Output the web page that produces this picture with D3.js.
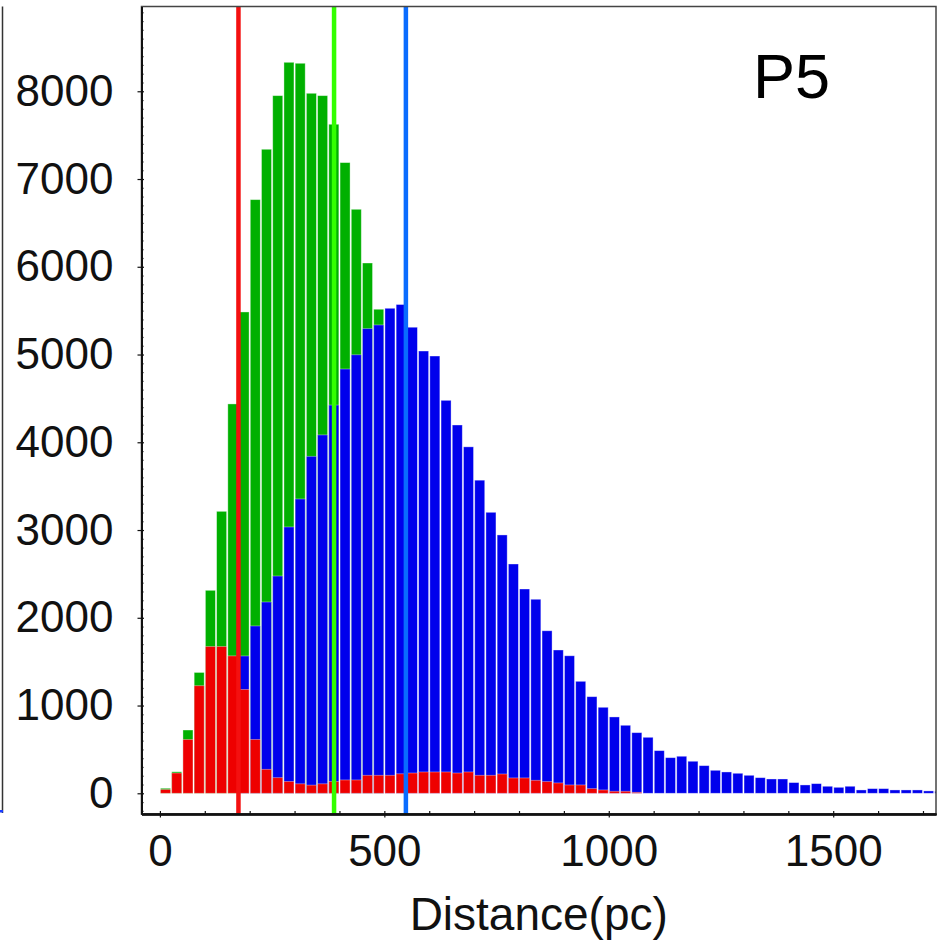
<!DOCTYPE html>
<html>
<head>
<meta charset="utf-8">
<script src="https://cdn.jsdelivr.net/npm/d3@7/dist/d3.min.js"></script>
<style>
  body { margin: 0; background: #fff; }
  svg { display: block; }
</style>
</head>
<body>
<svg id="chart" width="941" height="944"></svg>
<script>
// histogram bins, 25 pc wide, starting at 0
const binWidth = 25;
const firstBin = 0;

// counts per bin (index 0 = 0-25 pc); null = hidden behind other series
const greenCounts = [57, 245, 721, 1377, 2313, 3213, 4437, 5485, 6765, 7339,
    7950, 8330, 8319, 7977, 7950, 7624, 7187, 6655, 6043, 5516];

const blueCounts = [null, null, null, null, null, null, null,
    1565, 1907, 2180, 2476, 3035, 3354, 3840, 4084, 4424, 4835, 4997, 5295, 5337,
    5527, 5570, 5311, 5040, 4983, 4478, 4197, 3948, 3568, 3202,
    2944, 2613, 2328, 2211, 1852, 1633, 1567, 1276, 1101, 980,
    870, 775, 691, 638, 486, 406, 422, 365, 315, 262,
    243, 228, 205, 178, 163, 163, 122, 95, 110, 80,
    68, 80, 38, 53, 53, 38, 38, 38, 27, 23];

const redCounts = [43, 231, 613, 1226, 1673, 1673, 1566, 1183, 613, 273,
    178, 135, 108, 93, 108, 135, 152, 152, 205, 205,
    205, 222, 231, 243, 243, 243, 231, 243, 205, 205,
    220, 175, 175, 148, 133, 118, 95, 95, 53, 38,
    23, 23, 11];

// vertical marker lines (pc)
const markerValues = [175, 388, 548];

const xTickValues = [0, 500, 1000, 1500];
const yTickValues = [0, 1000, 2000, 3000, 4000, 5000, 6000, 7000, 8000];
const panelLabel = "P5";
const xTitle = "Distance(pc)";

// ---- layout / style ----
const box = {left: 141.5, right: 936, top: 6.5, bottom: 814};
const seriesColors = {green: "#00b000", blue: "#0000ec", red: "#ee0000"};
const markerColors = ["#f41010", "#33ff00", "#0a6cff"];
const font = "'Liberation Sans', Arial, sans-serif";

const svg = d3.select("#chart");

const x = d3.scaleLinear().domain([-41, 1729]).range([box.left, box.right]);
const y = d3.scaleLinear().domain([-236, 8966]).range([box.bottom, box.top]);

// piece of the neighbouring panel on the far left
svg.append("line")
    .attr("x1", 2.5).attr("x2", 2.5).attr("y1", box.top).attr("y2", 813)
    .attr("stroke", "#333").attr("stroke-width", 1.5);
svg.append("rect")
    .attr("x", 0).attr("y", 810).attr("width", 3).attr("height", 2.5)
    .attr("fill", "#1a3cff");

svg.append("defs").append("clipPath").attr("id", "plotclip")
    .append("rect")
    .attr("x", box.left).attr("y", box.top)
    .attr("width", box.right - box.left).attr("height", box.bottom - box.top);

const plot = svg.append("g").attr("clip-path", "url(#plotclip)");

function toBins(counts) {
    return counts.map((c, i) => ({x0: firstBin + i * binWidth, x1: firstBin + (i + 1) * binWidth, n: c}))
        .filter(d => d.n != null);
}

function drawSeries(counts, color) {
    plot.append("g")
        .selectAll("rect")
        .data(toBins(counts)).enter().append("rect")
        .attr("x", d => x(d.x0) + 0.6)
        .attr("width", d => x(d.x1) - x(d.x0) - 1.2)
        .attr("y", d => y(d.n))
        .attr("height", d => y(0) - y(d.n))
        .attr("fill", color)
        .attr("stroke", "rgba(255,255,255,0.45)")
        .attr("stroke-width", 0.8);
}

drawSeries(greenCounts, seriesColors.green);
drawSeries(blueCounts, seriesColors.blue);
drawSeries(redCounts, seriesColors.red);

plot.append("g")
    .selectAll("line")
    .data(markerValues).enter().append("line")
    .attr("x1", d => x(d)).attr("x2", d => x(d))
    .attr("y1", box.top).attr("y2", box.bottom)
    .attr("stroke", (d, i) => markerColors[i])
    .attr("stroke-width", 4.5);

// frame
svg.append("rect")
    .attr("x", box.left).attr("y", box.top)
    .attr("width", box.right - box.left).attr("height", box.bottom - box.top)
    .attr("fill", "none").attr("stroke", "#444").attr("stroke-width", 1.5);

// y axis: major ticks crossing the spine, minor inside
const yMinor = d3.range(-200, 8901, 100).filter(v => v % 1000 !== 0);
const fmt = d3.format("d");

svg.append("g")
    .attr("transform", `translate(${box.left},0)`)
    .call(d3.axisLeft(y).tickValues(yTickValues).tickFormat(fmt).tickSize(4).tickPadding(24).tickSizeOuter(0));
svg.append("g")
    .attr("transform", `translate(${box.left},0)`)
    .call(d3.axisRight(y).tickValues(yTickValues).tickSize(2.5).tickFormat("").tickSizeOuter(0));
svg.append("g")
    .attr("transform", `translate(${box.left},0)`)
    .call(d3.axisRight(y).tickValues(yMinor).tickSize(2).tickFormat("").tickSizeOuter(0));

// x axis
const xMinor = d3.range(100, 1701, 100).filter(v => v % 500 !== 0);

svg.append("g")
    .attr("transform", `translate(0,${box.bottom})`)
    .call(d3.axisBottom(x).tickValues(xTickValues).tickFormat(fmt).tickSize(3.5).tickPadding(17).tickSizeOuter(0));
svg.append("g")
    .attr("transform", `translate(0,${box.bottom})`)
    .call(d3.axisTop(x).tickValues(xTickValues).tickSize(3).tickFormat("").tickSizeOuter(0));
svg.append("g")
    .attr("transform", `translate(0,${box.bottom})`)
    .call(d3.axisTop(x).tickValues(xMinor).tickSize(3).tickFormat("").tickSizeOuter(0));

svg.selectAll(".domain").attr("stroke", "#111").attr("stroke-width", 1.8);
svg.selectAll(".tick line").attr("stroke", "#111").attr("stroke-width", 1.2);
svg.selectAll(".tick text")
    .attr("font-family", font)
    .attr("font-size", 44)
    .attr("fill", "#111");

svg.append("text")
    .attr("x", (box.left + box.right) / 2)
    .attr("y", 930)
    .attr("text-anchor", "middle")
    .attr("font-family", font)
    .attr("font-size", 46)
    .attr("fill", "#111")
    .text(xTitle);

svg.append("text")
    .attr("x", 753)
    .attr("y", 98)
    .attr("font-family", font)
    .attr("font-size", 63)
    .attr("fill", "#000")
    .text(panelLabel);
</script>
</body>
</html>
